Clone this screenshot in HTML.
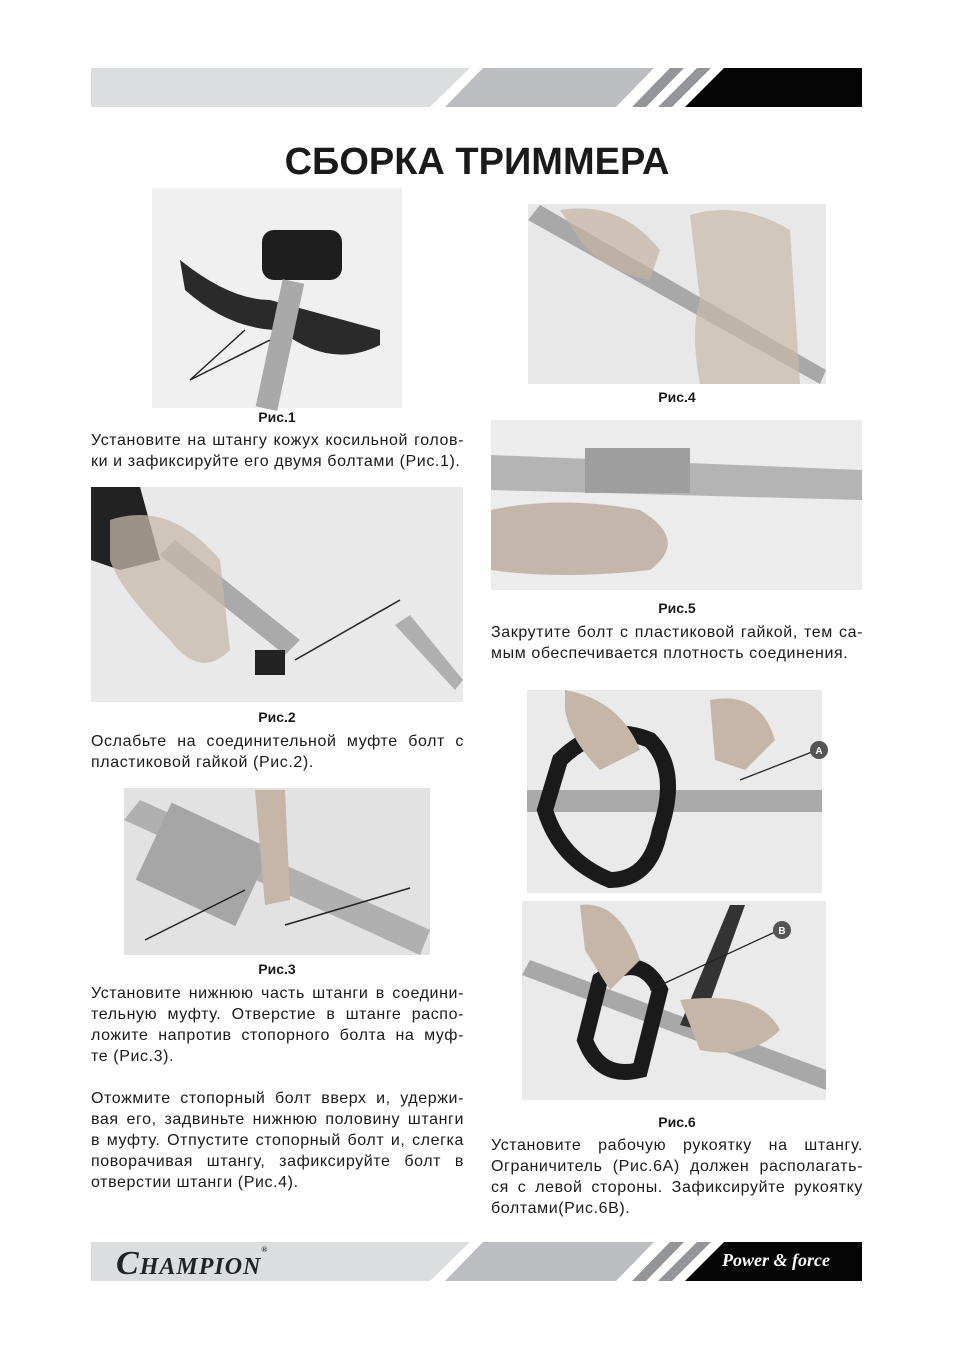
<!DOCTYPE html>
<html><head><meta charset="utf-8"><style>
body{margin:0;width:954px;height:1350px;background:#fff;position:relative;overflow:hidden;font-family:"Liberation Sans",sans-serif;color:#1a1a1a}
.a{position:absolute}
.t{position:absolute;font-size:16px;line-height:21px;letter-spacing:0.6px}
.t div{text-align:justify;text-align-last:justify;white-space:nowrap}
.t div.l{text-align-last:left}
.c{position:absolute;font-size:14px;font-weight:bold;text-align:center}
</style></head><body>
<svg class="a" style="left:0;top:0" width="954" height="1350">
<g id="band">
<polygon points="91,68 470,68 430,107 91,107" fill="#dcdddf"/>
<polygon points="483,68 654,68 616,107 445,107" fill="#bcbdc0"/>
<polygon points="670,68 684,68 646,107 632,107" fill="#939598"/>
<polygon points="697,68 711,68 672,107 658,107" fill="#939598"/>
<polygon points="724,68 862,68 862,107 685,107" fill="#050505"/>
</g>
<use href="#band" transform="translate(0,1174)"/>
<rect x="152" y="188" width="250" height="220" fill="#f0f0f0"/>
<path d="M180,260 Q230,300 270,300 L380,330 L380,345 Q330,370 280,330 Q230,330 185,290Z" fill="#2a2a2a"/>
<rect x="262" y="230" width="80" height="50" rx="12" fill="#1e1e1e"/>
<rect x="270" y="280" width="22" height="130" fill="#a9a9a9" transform="rotate(12 280 340)"/>
<line x1="190" y1="380" x2="245" y2="330" stroke="#222" stroke-width="1.5"/><line x1="190" y1="380" x2="270" y2="340" stroke="#222" stroke-width="1.5"/>

<rect x="528" y="204" width="298" height="180" fill="#e8e8e8"/>
<polygon points="528,220 540,205 826,370 820,384" fill="#a8a8a8"/>
<path d="M690,215 Q740,200 790,230 L800,384 L700,384 Q690,330 700,300Z" fill="#c9b9a8" opacity=".7"/>
<path d="M560,210 Q620,200 660,250 L650,280 Q600,270 580,240Z" fill="#c4b4a4" opacity=".7"/>

<rect x="491" y="420" width="371" height="170" fill="#ececec"/>
<polygon points="491,455 862,470 862,500 491,490" fill="#b4b4b4"/>
<rect x="585" y="448" width="105" height="45" fill="#9e9e9e"/>
<path d="M491,510 Q560,495 640,510 Q690,540 650,570 Q560,580 491,570Z" fill="#b9aa9c" opacity=".8"/>

<rect x="91" y="487" width="372" height="215" fill="#e9e9e9"/>
<path d="M91,487 L140,487 L160,560 L120,570 L91,560Z" fill="#222"/>
<polygon points="160,555 175,540 300,640 285,655" fill="#aaa"/>
<path d="M110,520 Q170,500 220,560 L230,650 Q200,680 170,640 Q120,590 110,560Z" fill="#c7b8aa" opacity=".75"/>
<rect x="255" y="650" width="30" height="25" fill="#222"/>
<polygon points="395,625 410,615 463,680 455,690" fill="#b0b0b0"/>
<line x1="400" y1="600" x2="295" y2="660" stroke="#222" stroke-width="1.5"/>

<rect x="124" y="788" width="306" height="167" fill="#e2e2e2"/>
<polygon points="124,820 140,800 430,930 420,955" fill="#b0b0b0"/>
<rect x="150" y="820" width="110" height="85" fill="#a6a6a6" transform="rotate(25 200 860)"/>
<path d="M255,790 L285,790 L290,900 L265,905Z" fill="#c5b6a8"/>
<line x1="145" y1="940" x2="245" y2="890" stroke="#222" stroke-width="1.5"/><line x1="410" y1="888" x2="285" y2="925" stroke="#222" stroke-width="1.5"/>

<rect x="527" y="690" width="295" height="203" fill="#eaeaea"/>
<rect x="527" y="790" width="295" height="22" fill="#aaa"/>
<path d="M560,760 Q600,720 650,740 Q680,770 660,830 Q650,880 610,880 Q560,860 545,810Z" fill="none" stroke="#1a1a1a" stroke-width="16"/>
<path d="M565,690 Q620,700 640,750 L600,770 Q570,740 565,710Z" fill="#c5b6a8"/>
<path d="M710,700 Q760,690 775,740 L745,770 L715,760Z" fill="#c5b6a8"/>
<line x1="740" y1="780" x2="812" y2="752" stroke="#222" stroke-width="1.3"/>
<circle cx="819" cy="750" r="9" fill="#555"/><text x="819" y="754" font-size="10" fill="#fff" text-anchor="middle" font-weight="bold" font-family="Liberation Sans">A</text>

<rect x="522" y="901" width="304" height="199" fill="#eaeaea"/>
<polygon points="522,975 530,960 826,1070 826,1090" fill="#a8a8a8"/>
<path d="M600,980 Q640,950 660,990 L640,1070 Q600,1080 585,1040Z" fill="none" stroke="#1a1a1a" stroke-width="16"/>
<polygon points="730,905 745,905 700,1030 680,1025" fill="#333"/>
<path d="M580,905 Q620,900 640,960 L610,990 L585,950Z" fill="#c5b6a8"/>
<path d="M680,1000 Q760,990 780,1030 Q750,1060 700,1050Z" fill="#c5b6a8"/>
<line x1="650" y1="990" x2="775" y2="932" stroke="#222" stroke-width="1.3"/>
<circle cx="782" cy="930" r="9" fill="#555"/><text x="782" y="934" font-size="10" fill="#fff" text-anchor="middle" font-weight="bold" font-family="Liberation Sans">B</text>
</svg>

<div class="a" style="left:0;width:954px;top:141px;text-align:center;font-size:38px;font-weight:bold;color:#1a1a1a">СБОРКА ТРИММЕРА</div>

<div class="c" style="left:227px;width:100px;top:409px">Рис.1</div>
<div class="t" style="left:91px;width:373px;top:430px"><div>Установите на штангу кожух косильной голов-</div><div class="l">ки и зафиксируйте его двумя болтами (Рис.1).</div></div>

<div class="c" style="left:227px;width:100px;top:709px">Рис.2</div>
<div class="t" style="left:91px;width:373px;top:731px"><div>Ослабьте на соединительной муфте болт с</div><div class="l">пластиковой гайкой (Рис.2).</div></div>

<div class="c" style="left:227px;width:100px;top:961px">Рис.3</div>
<div class="t" style="left:91px;width:373px;top:983px"><div>Установите нижнюю часть штанги в соедини-</div><div>тельную муфту. Отверстие в штанге распо-</div><div>ложите напротив стопорного болта на муф-</div><div class="l">те (Рис.3).</div></div>
<div class="t" style="left:91px;width:373px;top:1088px"><div>Отожмите стопорный болт вверх и, удержи-</div><div>вая его, задвиньте нижнюю половину штанги</div><div>в муфту. Отпустите стопорный болт и, слегка</div><div>поворачивая штангу, зафиксируйте болт в</div><div class="l">отверстии штанги (Рис.4).</div></div>

<div class="c" style="left:627px;width:100px;top:389px">Рис.4</div>
<div class="c" style="left:627px;width:100px;top:600px">Рис.5</div>
<div class="t" style="left:491px;width:372px;top:622px"><div>Закрутите болт с пластиковой гайкой, тем са-</div><div class="l">мым обеспечивается плотность соединения.</div></div>

<div class="c" style="left:627px;width:100px;top:1114px">Рис.6</div>
<div class="t" style="left:491px;width:372px;top:1135px"><div>Установите рабочую рукоятку на штангу.</div><div>Ограничитель (Рис.6А) должен располагать-</div><div>ся с левой стороны. Зафиксируйте рукоятку</div><div class="l">болтами(Рис.6В).</div></div>

<div class="a" style="left:116px;top:1245px;font-family:'Liberation Serif',serif;font-style:italic;font-weight:bold;font-size:24px;color:#222;letter-spacing:1px"><span style="font-size:34px">C</span>HAMPION<span style="font-size:8px;vertical-align:top">®</span></div>
<div class="a" style="left:722px;top:1250px;font-family:'Liberation Serif',serif;font-style:italic;font-weight:bold;font-size:18px;color:#fff">Power &amp; force</div>
</body></html>
